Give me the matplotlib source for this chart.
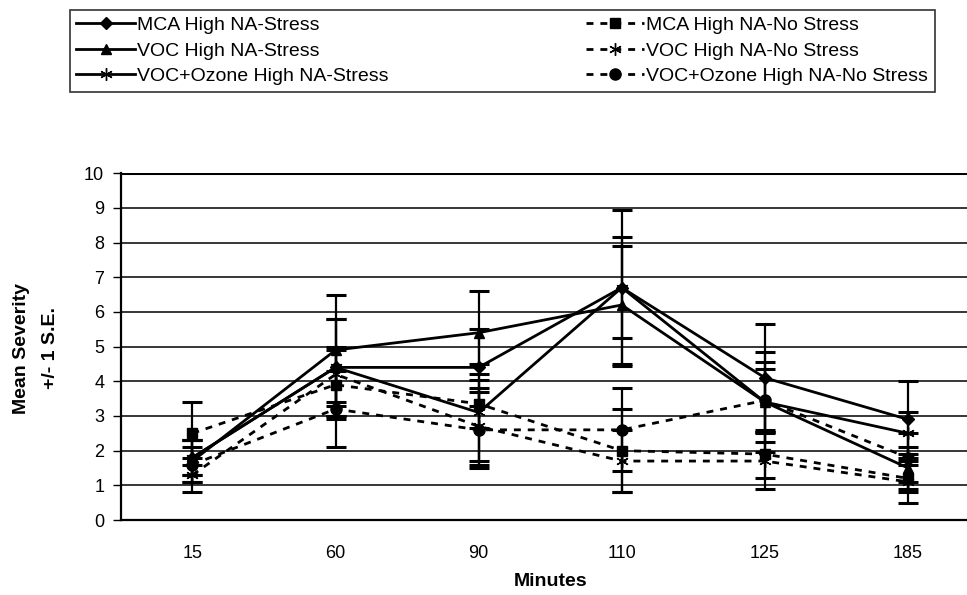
import matplotlib
matplotlib.use("Agg")
import matplotlib.pyplot as plt
import numpy as np

plt.rcParams['font.family'] = ['Liberation Sans', 'DejaVu Sans']

minutes = ['15', '60', '90', '110', '125', '185']

# mean severity
mca_stress = [1.8, 4.4, 4.4, 6.7, 4.1, 2.9]
voc_stress = [1.7, 4.9, 5.4, 6.2, 3.4, 1.5]
vocoz_stress = [1.8, 4.4, 3.1, 6.7, 3.4, 2.5]
mca_nostress = [2.5, 3.9, 3.35, 2.0, 1.9, 1.2]
voc_nostress = [1.3, 4.2, 2.7, 1.7, 1.7, 1.1]
vocoz_nostress = [1.6, 3.2, 2.6, 2.6, 3.45, 1.8]

# +/- 1 S.E.
mca_stress_se = [0.5, 1.4, 1.1, 1.45, 1.55, 1.1]
voc_stress_se = [0.6, 1.6, 1.2, 1.7, 1.45, 0.6]
vocoz_stress_se = [0.5, 1.4, 1.4, 2.25, 1.15, 0.6]
mca_nostress_se = [0.9, 1.0, 0.7, 1.2, 0.7, 0.4]
voc_nostress_se = [0.5, 0.8, 1.1, 0.9, 0.8, 0.6]
vocoz_nostress_se = [0.5, 1.1, 1.1, 1.2, 0.9, 0.7]

labels = ['MCA High NA-Stress', 'VOC High NA-Stress', 'VOC+Ozone High NA-Stress',
          'MCA High NA-No Stress', 'VOC High NA-No Stress', 'VOC+Ozone High NA-No Stress']

fig = plt.figure(figsize=(9.67, 5.95), dpi=100)
ax = fig.add_axes([0.125, 0.126, 0.888, 0.583])

x = np.arange(len(minutes))
series = [
    (mca_stress, mca_stress_se, 'D', '-', 6),
    (voc_stress, voc_stress_se, '^', '-', 7),
    (vocoz_stress, vocoz_stress_se, (6, 2, 0), '-', 9),
    (mca_nostress, mca_nostress_se, 's', (0, (2.5, 2.5)), 7),
    (voc_nostress, voc_nostress_se, (6, 2, 0), (0, (2.5, 2.5)), 9),
    (vocoz_nostress, vocoz_nostress_se, 'o', (0, (2.5, 2.5)), 8),
]

handles = []
for (vals, se, mk, ls, ms), lab in zip(series, labels):
    ax.errorbar(x, vals, yerr=se, fmt='none', ecolor='black', elinewidth=1.6,
                capsize=7, capthick=2.2, zorder=2)
    h, = ax.plot(x, vals, color='black', linestyle=ls, linewidth=2,
                 marker=mk, markersize=ms, markerfacecolor='black',
                 markeredgecolor='black', label=lab, zorder=3)
    handles.append(h)

ax.set_xlim(-0.5, 5.5)
ax.set_ylim(0, 10)
ax.set_yticks(range(0, 11))
ax.set_xticks(x)
ax.set_xticklabels(minutes)
ax.tick_params(axis='y', labelsize=13, length=6, width=1, direction='out', pad=6)
ax.tick_params(axis='x', labelsize=13, length=0, pad=18)
ax.yaxis.grid(True, color='black', linewidth=1.1)
ax.axhline(10, color='black', linewidth=2.2)
ax.set_axisbelow(True)
for s in ['top', 'right']:
    ax.spines[s].set_visible(False)
ax.spines['left'].set_linewidth(1.6)
ax.spines['bottom'].set_linewidth(1.6)

ax.set_xlabel('Minutes', fontsize=14, fontweight='bold', labelpad=8)
fig.text(0.022, 0.415, 'Mean Severity', rotation=90, ha='center', va='center',
         fontsize=14, fontweight='bold')
fig.text(0.052, 0.415, '+/- 1 S.E.', rotation=90, ha='center', va='center',
         fontsize=14, fontweight='bold')

leg = fig.legend(handles=handles, labels=labels, ncol=2, loc='upper left',
                 bbox_to_anchor=(0.062, 0.86, 0.915, 0.14), mode='expand',
                 fontsize=14, frameon=True, fancybox=False, edgecolor='black',
                 handlelength=3, handletextpad=0.1, labelspacing=0.4,
                 borderpad=0.35, columnspacing=2)
leg.get_frame().set_linewidth(1.2)

fig.savefig('out.png', dpi=100)
